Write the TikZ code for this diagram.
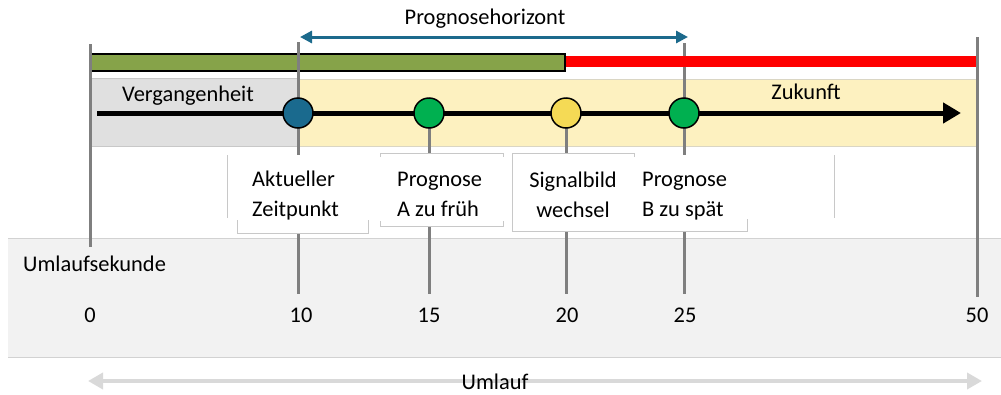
\documentclass[tikz,border=0pt]{standalone}
\usepackage{fontspec}
\setmainfont{Carlito}
\usetikzlibrary{arrows.meta}

\definecolor{tickgray}{RGB}{127,127,127}
\definecolor{hzblue}{RGB}{28,106,140}
\definecolor{nowblue}{RGB}{26,106,142}
\definecolor{barGreen}{RGB}{134,163,73}
\definecolor{dotGreen}{RGB}{0,176,80}
\definecolor{dotYellow}{RGB}{245,218,85}
\definecolor{pastFill}{RGB}{224,224,224}
\definecolor{pastLine}{RGB}{200,200,200}
\definecolor{futFill}{RGB}{253,241,192}
\definecolor{futLine}{RGB}{218,214,196}
\definecolor{bandFill}{RGB}{242,242,242}
\definecolor{bandLine}{RGB}{210,210,210}
\definecolor{boxLine}{RGB}{200,200,200}
\definecolor{cycleGray}{RGB}{217,217,217}

\begin{document}
\begin{tikzpicture}[x=1pt,y=-1pt,
  txt/.style={font=\fontsize{22.4}{30}\selectfont, inner sep=0pt},
  tickline/.style={draw=tickgray, line width=3pt},
  boxedge/.style={draw=boxLine, line width=0.8pt},
  dot/.style={circle, draw=black, line width=1.5pt, minimum size=30pt, inner sep=0pt},
  hzarrow/.style={draw=hzblue, line width=3pt,
    {Triangle[length=12pt,width=12pt]}-{Triangle[length=12pt,width=12pt]}},
  timearrow/.style={draw=black, line width=5pt, -{Triangle[length=18pt,width=20pt]}},
  cyclearrow/.style={draw=cycleGray, line width=4.5pt,
    {Triangle[length=15pt,width=16pt]}-{Triangle[length=15pt,width=16pt]}}]
\useasboundingbox (0,0) rectangle (1001,394);

% lower band with the cycle seconds
\fill[bandFill] (8,238) rectangle (1003,357);
\draw[bandLine, line width=1pt] (8,238) -- (1003,238);
\draw[bandLine, line width=1pt] (8,357) -- (1003,357);

% past and future regions
\filldraw[fill=pastFill, draw=pastLine, line width=1pt] (90,78) rectangle (298,146);
\filldraw[fill=futFill, draw=futLine, line width=1pt] (298,79) rectangle (976,146);

% green bar (valid forecast)
\filldraw[fill=barGreen, draw=black, line width=1.5pt] (90,54) rectangle (565,71);

% tick coordinates
\coordinate (t0a) at (90,44);   \coordinate (t0b) at (90,247);
\coordinate (t10a) at (298,42); \coordinate (t10b) at (298,294);
\coordinate (t15a) at (429,113); \coordinate (t15b) at (429,294);
\coordinate (t20a) at (566,113); \coordinate (t20b) at (566,294);
\coordinate (t25a) at (684,43); \coordinate (t25b) at (684,294);
\coordinate (t50a) at (977,37); \coordinate (t50b) at (977,297);

\draw[tickline] (t0a) -- (t0b);
\draw[tickline] (t10a) -- (t10b);
\draw[tickline] (t15a) -- (t15b);
\draw[tickline] (t20a) -- (t20b);
\draw[tickline] (t25a) -- (t25b);
\draw[tickline] (t50a) -- (t50b);

% red bar (no forecast)
\fill[red] (566,56) rectangle (975.5,67);

% time axis
\coordinate (axL) at (97,113);
\coordinate (axR) at (961,113);
\draw[timearrow] (axL) -- (axR);

\node[txt, anchor=center] (past) at (188,96) {Vergangenheit};
\node[txt, anchor=center] (future) at (806,92) {Zukunft};

% events on the axis
\node[dot, fill=nowblue] (now) at (298,113) {};
\node[dot, fill=dotGreen] (progA) at (429,113) {};
\node[dot, fill=dotYellow] (switch) at (566,113) {};
\node[dot, fill=dotGreen] (progB) at (684,113) {};

% label boxes
\fill[white] (227,155) rectangle (368,233);
\fill[white] (380,153) rectangle (503,226);
\fill[white] (512,153) rectangle (634,231);
\fill[white] (634,155) rectangle (747,231);
\draw[boxedge] (227,155) -- (227,218);
\draw[boxedge] (237,220) -- (237,233) -- (368,233) -- (368,220);
\draw[boxedge] (380,157) -- (380,153) -- (503,153) -- (503,157);
\draw[boxedge] (380,221) -- (380,226) -- (503,226) -- (503,221);
\draw[boxedge] (634,157) -- (634,153) -- (512,153) -- (512,231) -- (747,231) -- (747,219);
\draw[boxedge] (834,155) -- (834,218);

\node[txt, align=left, anchor=west] (lNow) at (252,196) {Aktueller\\Zeitpunkt};
\node[txt, align=left, anchor=west] (lA) at (397,194) {Prognose\\A zu früh};
\node[txt, align=center, anchor=center] (lSw) at (573,195) {Signalbild\\wechsel};
\node[txt, align=left, anchor=west] (lB) at (642,196) {Prognose\\B zu spät};

% cycle seconds
\node[txt, anchor=west] (unit) at (23,264) {Umlaufsekunde};
\node[txt] (n0) at (90,315) {0};
\node[txt] (n10) at (301,315) {10};
\node[txt] (n15) at (429,315) {15};
\node[txt] (n20) at (567,315) {20};
\node[txt] (n25) at (685,315) {25};
\node[txt] (n50) at (977,315) {50};

% forecast horizon
\coordinate (hzL) at (300,37);
\coordinate (hzR) at (688,37);
\draw[hzarrow] (hzL) -- (hzR);
\node[txt] (hz) at (485,19) {Prognosehorizont};

% full cycle
\coordinate (cyL) at (88,381);
\coordinate (cyR) at (982,381);
\draw[cyclearrow] (cyL) -- (cyR);
\node[txt] (cycle) at (495,382) {Umlauf};
\end{tikzpicture}
\end{document}
